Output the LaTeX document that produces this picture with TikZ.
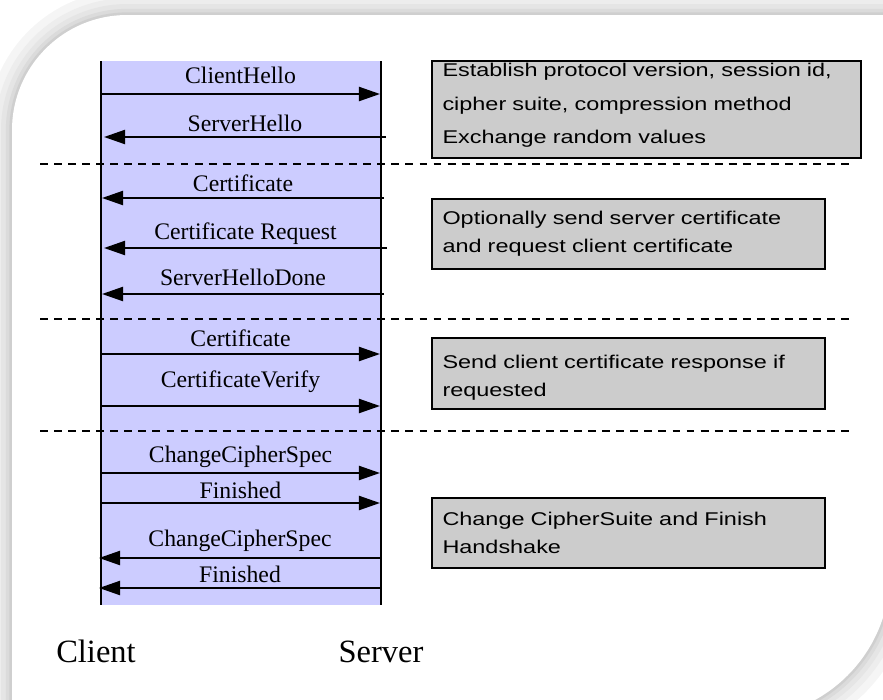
\documentclass[tikz,border=0pt]{standalone}
\usepackage{fontspec}
\setmainfont{Liberation Serif}
\newfontfamily\boxfont[FakeStretch=1.27]{Liberation Sans}
\usetikzlibrary{arrows.meta}

\definecolor{lavender}{HTML}{CCCCFF}
\definecolor{boxgray}{HTML}{CCCCCC}

\begin{document}
\begin{tikzpicture}[x=0.02cm, y=-0.02cm,
    >={Triangle[length=12pt,width=8pt]},
    lifeline/.style={line width=1.2pt},
    msg/.style={->, line width=1.2pt},
    lbl/.style={font=\fontsize{13.5}{15}\selectfont, inner sep=0pt, text depth=0pt},
    sep/.style={line width=1pt, dash pattern=on 4.5pt off 3.5pt},
    descbox/.style={draw, line width=1.1pt, fill=boxgray, align=left, anchor=north west,
      inner xsep=6pt, font=\boxfont\fontsize{10.5}{16}\selectfont},
    party/.style={font=\fontsize{18.5}{20}\selectfont, anchor=base}]
  \useasboundingbox (0,0) rectangle (883,700);
  \clip (0,0) rectangle (883,700);

  % page with a soft shadow round it
  \def\card{(12,760) -- (12,130) .. controls (12,66.5) and (63.5,15) .. (127,15)
    -- (890,15) -- (890,573) .. controls (890,653) and (825,718) .. (745,718)
    -- (12,718) -- cycle}
  \foreach \w/\c in {28/4, 19/7, 12.5/10, 7/14, 3/19}
    \draw[black!\c, line width=\w pt] \card;
  \fill[white] \card;

  % lifelines
  \fill[lavender] (101,61) rectangle (381,605);
  \coordinate (ctop) at (101,61);
  \coordinate (cbot) at (101,605);
  \coordinate (stop) at (381,61);
  \coordinate (sbot) at (381,605);
  \draw[lifeline] (ctop) -- (cbot);
  \draw[lifeline] (stop) -- (sbot);

  % phase separators
  \foreach \n/\y in {1/164, 2/319, 3/431} {
    \coordinate (sepl\n) at (40,\y);
    \coordinate (sepr\n) at (850,\y);
    \draw[sep] (sepl\n) -- (sepr\n);
  }

  % handshake messages
  \foreach \n/\y/\xa/\xb/\off/\txt in {
      1/94/101/380/5.1/ClientHello,
      2/137/386/104/2.6/ServerHello,
      3/198/384/102/3.1/Certificate,
      4/248/387/104/4.4/Certificate Request,
      5/294/384/102/4.4/ServerHelloDone,
      6/354/101/380/3.7/Certificate,
      7/406/101/380/10/CertificateVerify,
      8/473/101/380/5.5/ChangeCipherSpec,
      9/503/101/380/1.8/Finished,
      10/558/381/99/5.7/ChangeCipherSpec,
      11/588/381/99/2.3/Finished} {
    \coordinate (m\n a) at (\xa,\y);
    \coordinate (m\n b) at (\xb,\y);
    \draw[msg] (m\n a) -- node[lbl, above=\off pt] {\txt} (m\n b);
  }

  % phase descriptions
  \node at (431,60)[descbox, minimum width=8.58cm, minimum height=1.94cm,
    text width=8.58cm-12pt, inner ysep=1pt, font=\boxfont\fontsize{10.5}{19}\selectfont] (hello)
    {Establish protocol version, session id,\\cipher suite, compression method\\Exchange random values\rule[-6.7pt]{0pt}{0pt}};
  \node at (431,198)[descbox, minimum width=7.86cm, minimum height=1.40cm,
    text width=7.86cm-12pt] (srvcert)
    {Optionally send server certificate\\and request client certificate};
  \node at (431,337)[descbox, minimum width=7.86cm, minimum height=1.42cm,
    text width=7.86cm-12pt] (clicert)
    {\rule{0pt}{12pt}Send client certificate response if\\requested};
  \node at (431,497)[descbox, minimum width=7.86cm, minimum height=1.40cm,
    text width=7.86cm-12pt] (finish)
    {Change CipherSuite and Finish\\Handshake};

  \node at (96,662)[party] (client) {Client};
  \node at (381,662)[party] (server) {Server};
\end{tikzpicture}
\end{document}
